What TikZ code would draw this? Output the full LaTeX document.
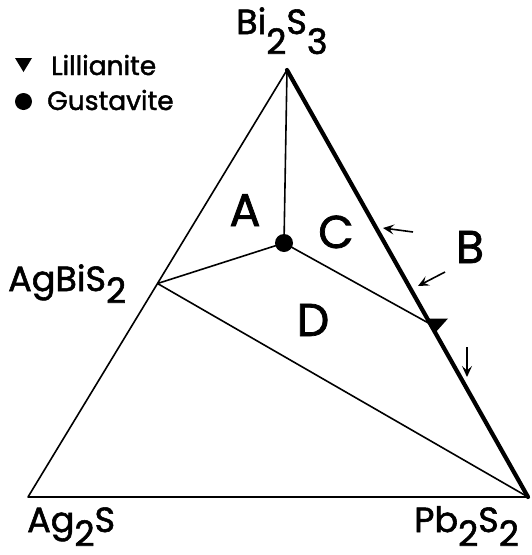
\documentclass[tikz,border=0pt]{standalone}
\usepackage{fontspec}
\setmainfont{Poppins}[FakeBold=1.6]
\usetikzlibrary{arrows.meta}
\newcommand\dn[2]{\raisebox{-#1}{#2}}
\begin{document}
\begin{tikzpicture}[x=1pt,y=-1pt,
  edge/.style={line width=1.6pt},
  thick edge/.style={line width=4.2pt},
  flow/.style={line width=1.6pt,-{Stealth[length=11pt,width=10pt,inset=4.5pt]}},
  vlabel/.style={font=\fontsize{35}{38}\selectfont,inner sep=0pt},
  rlabel/.style={font=\fontsize{46}{50}\selectfont,inner sep=0pt},
  leg/.style={font=\fontsize{26.5}{28}\selectfont,inner sep=0pt,anchor=base west}]
\useasboundingbox (0,0) rectangle (532,555);
% vertices
\coordinate (top) at (287,70);
\coordinate (ag) at (28,497);
\coordinate (pb) at (528,497);
\coordinate (agbi) at (157.5,283.5);
\coordinate (gus) at (284,243);
\coordinate (lil) at (432,325);
% edges
\draw[edge,line join=round] (pb) -- (ag) -- (top);
\draw[thick edge,line cap=round] (top) -- (pb);
\draw[edge] (top) -- (gus);
\draw[edge] (agbi) -- (gus);
\draw[edge] (gus) -- (lil);
\draw[edge] (agbi) -- (pb);
% markers
\fill (gus) circle (9);
\fill (427,318.5) -- (448,318.5) -- (435,333) -- cycle;
% flow arrows
\coordinate (a1s) at (413,232); \coordinate (a1e) at (383,228);
\coordinate (a2s) at (445,272); \coordinate (a2e) at (418,286);
\coordinate (a3s) at (467,347); \coordinate (a3e) at (467,377);
\draw[flow] (a1s) -- (a1e);
\draw[flow] (a2s) -- (a2e);
\draw[flow] (a3s) -- (a3e);
% vertex labels
\node[vlabel,anchor=base west] (lbi) at (236,34) {Bi\dn{20pt}{2}S\dn{20pt}{3}};
\node[vlabel,anchor=base west] (lagbi) at (8,291) {AgBiS\dn{12pt}{2}};
\node[vlabel,anchor=base west] (lag) at (27,532) {Ag\dn{14pt}{2}S};
\node[vlabel,anchor=base west] (lpb) at (414,532) {Pb\dn{14pt}{2}S\dn{14pt}{2}};
% region labels
\node[rlabel,anchor=base] (rA) at (245,226) {A};
\node[rlabel,anchor=base] (rC) at (336,248) {C};
\node[rlabel,anchor=base] (rB) at (470,263) {B};
\node[rlabel,anchor=base] (rD) at (313,336) {D};
% legend
\fill (15,58) -- (32,58) -- (23.5,72) -- cycle;
\node[leg] (lgl) at (51,75) {Lillianite};
\fill (23.5,101.5) circle (8.5);
\node[leg] (lgg) at (47,110) {Gustavite};
\end{tikzpicture}
\end{document}
